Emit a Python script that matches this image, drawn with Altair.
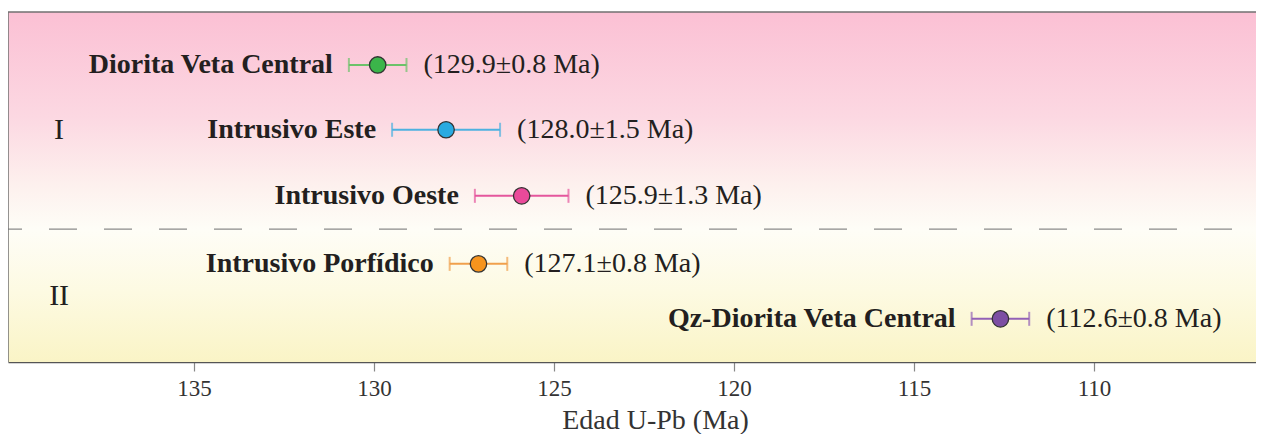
import altair as alt
import pandas as pd

# ---- data ----
names = ["Diorita Veta Central", "Intrusivo Este", "Intrusivo Oeste",
         "Intrusivo Porfídico", "Qz-Diorita Veta Central"]
ages = [129.9, 128.0, 125.9, 127.1, 112.6]
errs = [0.8, 1.5, 1.3, 0.8, 0.8]
rows = [0.81, 1.80, 2.81, 3.85, 4.69]          # vertical slot of each sample
dot_colors = ["#3bb54a", "#2aaae1", "#ea4a9a", "#f7941e", "#7d4ea3"]
bar_colors = ["#6cc26a", "#4db1e0", "#e4569d", "#f0a04c", "#9361b6"]
groups = ["I", "II"]
group_rows = [1.80, 4.34]
group_x = [138.75, 138.75]
divider_row = [3.32]
tick_values = [135, 130, 125, 120, 115, 110]

W, H = 1248, 350
XMIN, XMAX = 105.50, 140.17
YMAX = 5.35
FONT = "Liberation Serif"

df = pd.DataFrame({
    "name": names, "age": ages, "err": errs, "row": rows,
})
df["lo"] = df["age"] + df["err"]   # older end (left, axis reversed)
df["hi"] = df["age"] - df["err"]
df["label"] = [f"({a:.1f}±{e:.1f} Ma)" for a, e in zip(ages, errs)]

gdf = pd.DataFrame({"g": groups, "row": group_rows, "x": group_x})
ddf = pd.DataFrame({"row": divider_row})

xs = alt.Scale(domain=[XMIN, XMAX], reverse=True, nice=False, zero=False)
ys = alt.Scale(domain=[0, YMAX], reverse=True, nice=False, zero=False)
X = lambda f, **kw: alt.X(f, type="quantitative", scale=xs, **kw)
Y = lambda f: alt.Y(f, type="quantitative", scale=ys, axis=None)

bar_scale = alt.Scale(domain=names, range=bar_colors)
dot_scale = alt.Scale(domain=names, range=dot_colors)

base = alt.Chart(df)

bg = alt.Chart(ddf).mark_rect(
    fill=alt.Gradient(
        gradient="linear",
        stops=[
            alt.GradientStop(color="#fbc0d4", offset=0),
            alt.GradientStop(color="#fcd8e2", offset=0.3),
            alt.GradientStop(color="#fdf1ee", offset=0.5),
            alt.GradientStop(color="#fefdf7", offset=0.62),
            alt.GradientStop(color="#fdfae2", offset=0.8),
            alt.GradientStop(color="#faf4c6", offset=1),
        ],
        x1=0, x2=0, y1=0, y2=1,
    )
).encode(x=alt.value(0), x2=alt.value(W), y=alt.value(0), y2=alt.value(H))

divider = alt.Chart(ddf).mark_rule(
    color="#8a8a8a", strokeWidth=1.3, strokeDash=[28, 27], strokeDashOffset=31
).encode(y=Y("row:Q"))

top_border = alt.Chart(ddf).mark_rule(color="#707070", strokeWidth=1.5).encode(
    y=alt.value(0))
left_border = alt.Chart(ddf).mark_rule(color="#707070", strokeWidth=1.5).encode(
    x=alt.value(0))

xaxis = alt.Axis(
    values=tick_values, grid=False, title="Edad U-Pb (Ma)",
    domainColor="#555555", domainWidth=1.5,
    tickColor="#888888", tickSize=9, tickWidth=1.2,
    labelFont=FONT, labelFontSize=23, labelColor="#333333", labelPadding=6,
    titleFont=FONT, titleFontSize=28, titleFontWeight="normal",
    titleColor="#333333", titleX=647, titleY=66, titleBaseline="alphabetic",
)

bars = base.mark_rule(strokeWidth=2).encode(
    x=X("lo", axis=xaxis), x2="hi", y=Y("row"),
    color=alt.Color("name:N", scale=bar_scale, legend=None),
)
caps_lo = base.mark_tick(orient="vertical", size=14, thickness=2).encode(
    x=X("lo"), y=Y("row"),
    color=alt.Color("name:N", scale=bar_scale, legend=None),
)
caps_hi = base.mark_tick(orient="vertical", size=14, thickness=2).encode(
    x=X("hi"), y=Y("row"),
    color=alt.Color("name:N", scale=bar_scale, legend=None),
)
dots = base.mark_circle(size=270, opacity=1, stroke="#333333",
                        strokeWidth=1.3).encode(
    x=X("age"), y=Y("row"),
    fill=alt.Fill("name:N", scale=dot_scale, legend=None),
)
name_txt = base.mark_text(align="right", baseline="middle", dx=-16,
                          font=FONT, fontSize=28, fontWeight="bold",
                          color="#231f20").encode(
    x=X("lo"), y=Y("row"), text="name:N")
val_txt = base.mark_text(align="left", baseline="middle", dx=17,
                         font=FONT, fontSize=28, color="#231f20").encode(
    x=X("hi"), y=Y("row"), text="label:N")
grp_txt = alt.Chart(gdf).mark_text(align="center", baseline="middle",
                                   font=FONT, fontSize=30,
                                   color="#231f20").encode(
    x=X("x"), y=Y("row"), text="g:N")

chart = alt.layer(
    bg, divider, bars, caps_lo, caps_hi, dots, name_txt, val_txt, grp_txt,
    top_border, left_border,
).properties(
    width=W, height=H,
    autosize=alt.AutoSizeParams(type="none"),
    padding={"left": 0, "top": 4, "right": 0, "bottom": 72},
).configure_view(stroke=None).configure(background="white")

chart.save("out.html", embed_options={"renderer": "svg", "actions": False})
